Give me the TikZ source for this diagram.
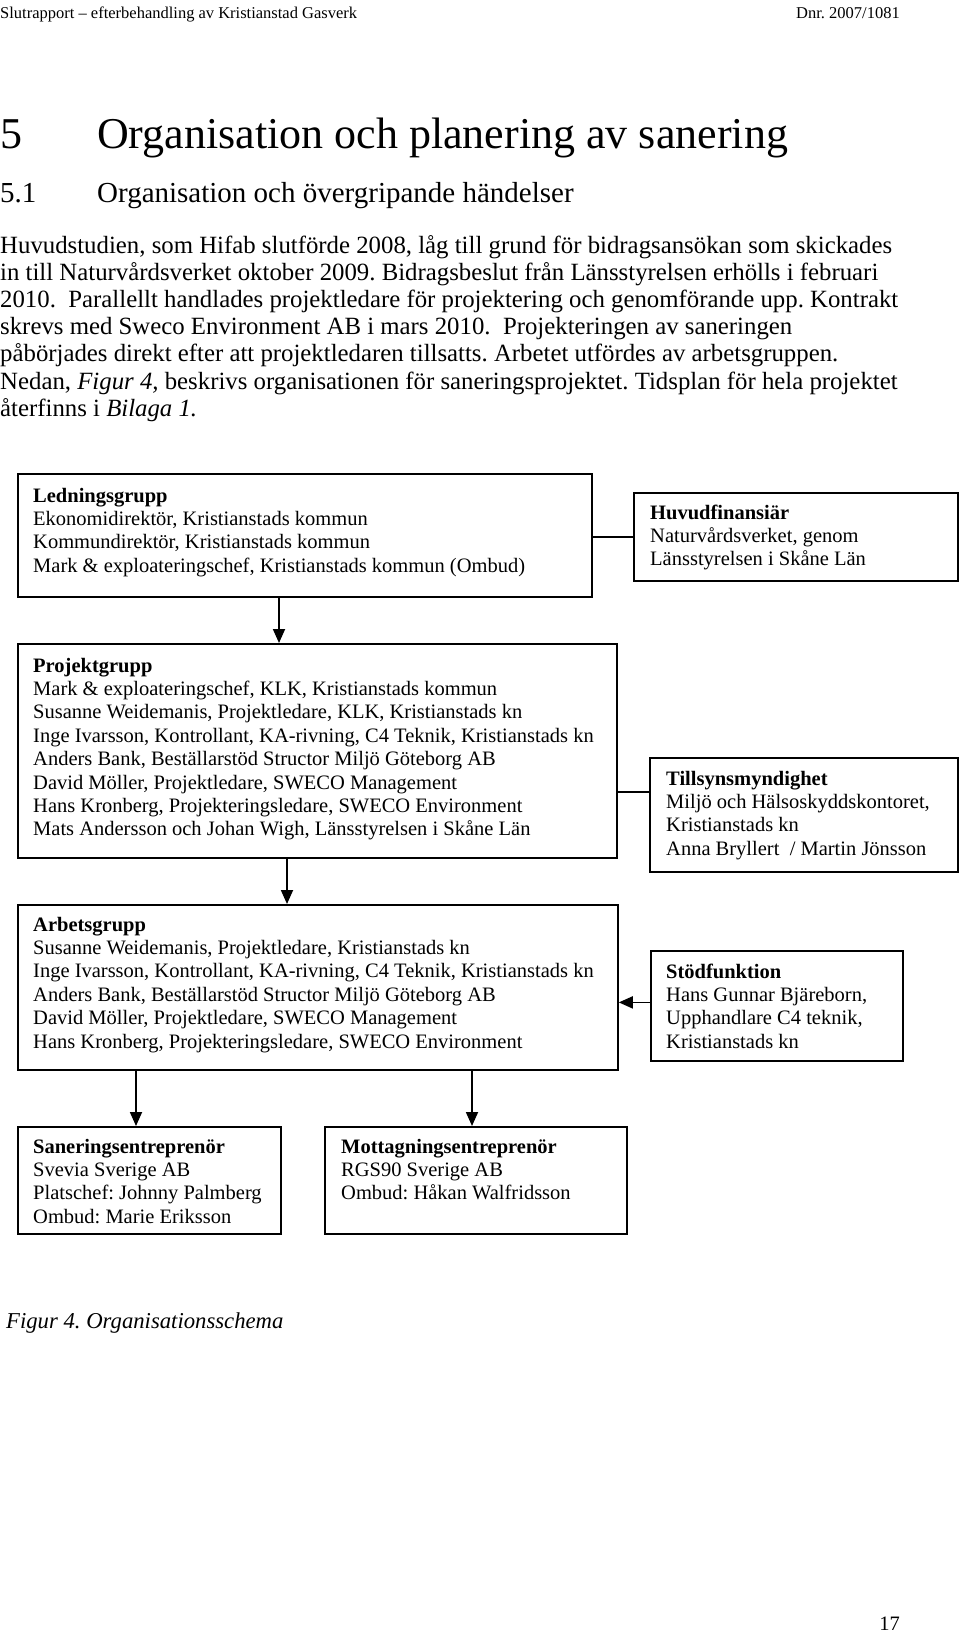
\documentclass[tikz,border=0pt]{standalone}
\usepackage{fontspec}
\setmainfont{Liberation Serif}
\usetikzlibrary{arrows.meta}
\newcommand{\mylines}[2]{\parbox[t]{#1pt}{\raggedright #2}}
\frenchspacing
\begin{document}
\begin{tikzpicture}[x=1pt,y=-1pt,
  box/.style={draw, line width=1.8pt, inner sep=0pt, anchor=north west},
  conn/.style={line width=1.8pt},
  arr/.style={line width=1.8pt, -{Triangle[length=14pt,width=12pt]}},
  txt/.style={anchor=base west, inner sep=0pt, font=\fontsize{20.5}{23.4}\selectfont},
  plain/.style={anchor=base west, inner sep=0pt}]
\useasboundingbox (0,0) rectangle (960,1638);

% page header
\node[plain, font=\fontsize{16.5}{19}\selectfont] (hdl) at (0,18) {Slutrapport – efterbehandling av Kristianstad Gasverk};
\node[plain, anchor=base east, font=\fontsize{16.5}{19}\selectfont] (hdr) at (900,18) {Dnr. 2007/1081};

% headings
\node[plain, font=\fontsize{44}{50}\selectfont] (h1n) at (0,148) {5};
\node[plain, font=\fontsize{44}{50}\selectfont] (h1) at (97,148) {Organisation och planering av sanering};
\node[plain, font=\fontsize{29}{33}\selectfont] (h2n) at (0,202) {5.1};
\node[plain, font=\fontsize{29}{33}\selectfont] (h2) at (97,202) {Organisation och övergripande händelser};

% body
\node[plain, font=\fontsize{24.8}{27.2}\selectfont] (body) at (0,253) {\mylines{960}{%
Huvudstudien, som Hifab slutförde 2008, låg till grund för bidragsansökan som skickades\\
in till Naturvårdsverket oktober 2009. Bidragsbeslut från Länsstyrelsen erhölls i februari\\
2010.~ Parallellt handlades projektledare för projektering och genomförande upp. Kontrakt\\
skrevs med Sweco Environment AB i mars 2010.~ Projekteringen av saneringen\\
påbörjades direkt efter att projektledaren tillsatts. Arbetet utfördes av arbetsgruppen.\\
Nedan, \textit{Figur 4,} beskrivs organisationen för saneringsprojektet. Tidsplan för hela projektet\\
återfinns i \textit{Bilaga 1.}}};

% boxes
\node[box, minimum width=574pt, minimum height=123pt] (led) at (17,473) {};
\node[box, minimum width=324pt, minimum height=88pt] (huv) at (633,492) {};
\node[box, minimum width=599pt, minimum height=214pt] (proj) at (17,643) {};
\node[box, minimum width=308pt, minimum height=114pt] (till) at (649,757) {};
\node[box, minimum width=600pt, minimum height=165pt] (arb) at (17,904) {};
\node[box, minimum width=252pt, minimum height=110pt] (stod) at (650,950) {};
\node[box, minimum width=263pt, minimum height=107pt] (san) at (17,1126) {};
\node[box, minimum width=302pt, minimum height=107pt] (mot) at (324,1126) {};

% box texts
\node[txt] (ledt) at (33,502) {\mylines{556}{\textbf{Ledningsgrupp}\\
Ekonomidirektör, Kristianstads kommun\\
Kommundirektör, Kristianstads kommun\\
Mark \& exploateringschef, Kristianstads kommun (Ombud)}};
\node[txt] (huvt) at (650,519) {\mylines{300}{\textbf{Huvudfinansiär}\\
Naturvårdsverket, genom\\
Länsstyrelsen i Skåne Län}};
\node[txt] (projt) at (33,672) {\mylines{580}{\textbf{Projektgrupp}\\
Mark \& exploateringschef, KLK, Kristianstads kommun\\
Susanne Weidemanis, Projektledare, KLK, Kristianstads kn\\
Inge Ivarsson, Kontrollant, KA-rivning, C4 Teknik, Kristianstads kn\\
Anders Bank, Beställarstöd Structor Miljö Göteborg AB\\
David Möller, Projektledare, SWECO Management\\
Hans Kronberg, Projekteringsledare, SWECO Environment\\
Mats Andersson och Johan Wigh, Länsstyrelsen i Skåne Län}};
\node[txt] (tillt) at (666,785) {\mylines{290}{\textbf{Tillsynsmyndighet}\\
Miljö och Hälsoskyddskontoret,\\
Kristianstads kn\\
Anna Bryllert~ / Martin Jönsson}};
\node[txt] (arbt) at (33,931) {\mylines{580}{\textbf{Arbetsgrupp}\\
Susanne Weidemanis, Projektledare, Kristianstads kn\\
Inge Ivarsson, Kontrollant, KA-rivning, C4 Teknik, Kristianstads kn\\
Anders Bank, Beställarstöd Structor Miljö Göteborg AB\\
David Möller, Projektledare, SWECO Management\\
Hans Kronberg, Projekteringsledare, SWECO Environment}};
\node[txt] (stodt) at (666,978) {\mylines{235}{\textbf{Stödfunktion}\\
Hans Gunnar Bjäreborn,\\
Upphandlare C4 teknik,\\
Kristianstads kn}};
\node[txt] (sant) at (33,1153) {\mylines{245}{\textbf{Saneringsentreprenör}\\
Svevia Sverige AB\\
Platschef: Johnny Palmberg\\
Ombud: Marie Eriksson}};
\node[txt] (mott) at (341,1153) {\mylines{280}{\textbf{Mottagningsentreprenör}\\
RGS90 Sverige AB\\
Ombud: Håkan Walfridsson}};

% connectors
\draw[arr] ([xshift=262pt]led.south west) -- ([xshift=262pt]proj.north west);
\draw[conn] (huv.west) -- (huv.west -| led.east);
\draw[conn] ([yshift=23pt]till.west) -- ([yshift=23pt]till.west -| proj.east);
\draw[arr] ([xshift=270pt]proj.south west) -- ([xshift=270pt]arb.north west);
\draw[arr] ([yshift=3.5pt]stod.west) -- ([yshift=3.5pt]stod.west -| arb.east);
\draw[arr] ([xshift=119pt]arb.south west) -- ([xshift=119pt]san.north west);
\draw[arr] ([xshift=455pt]arb.south west) -- ([xshift=148pt]mot.north west);

% caption and page number
\node[plain, font=\fontsize{22.7}{26}\selectfont\itshape] (cap) at (6,1328) {Figur 4. Organisationsschema};
\node[plain, anchor=base east, font=\fontsize{20.5}{23}\selectfont] (pg) at (900,1630) {17};
\end{tikzpicture}
\end{document}
